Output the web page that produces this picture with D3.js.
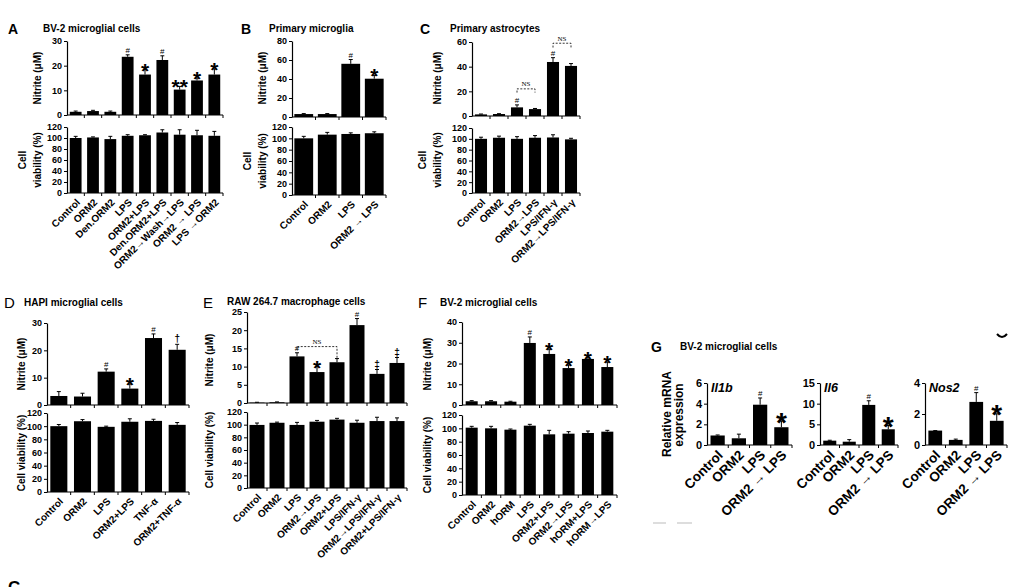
<!DOCTYPE html>
<html>
<head>
<meta charset="utf-8">
<script src="https://cdn.jsdelivr.net/npm/d3@7"></script>
<style>
  body { margin: 0; background: #fff; }
</style>
</head>
<body>
<svg id="fig" width="1030" height="587"></svg>
<script>
const FONT = '"Liberation Sans", Arial, sans-serif';

// A: BV-2 microglial cells
const aLabels = ["Control", "ORM2", "Den.ORM2", "LPS", "ORM2+LPS", "Den.ORM2+LPS", "ORM2→Wash→LPS", "ORM2 → LPS", "LPS →ORM2"];
const aNitrite = [1.3, 1.6, 1.3, 23.6, 16.4, 22.3, 10.3, 14.0, 16.4];
const aNitriteErr = [0.3, 0.3, 0.3, 0.8, 2.0, 1.7, 1.3, 1.0, 2.3];
const aMarks = ["", "", "", "#", "*", "#", "**", "*", "*"];
const aViab = [100, 101, 98, 104, 105, 110, 106, 105, 104];
const aViabErr = [3, 1, 5, 2, 1, 5, 9, 9, 8];

// B: Primary microglia
const bLabels = ["Control", "ORM2", "LPS", "ORM2 → LPS"];
const bNitrite = [3.1, 3.1, 56, 40.3];
const bNitriteErr = [0.5, 0.5, 4.5, 3.5];
const bMarks = ["", "", "#", "*"];
const bViab = [100, 106.5, 107.7, 109];
const bViabErr = [3.5, 4, 2, 2.5];

// C: Primary astrocytes
const cLabels = ["Control", "ORM2", "LPS", "ORM2→LPS", "LPS/IFN-γ", "ORM2→LPS/IFN-γ"];
const cNitrite = [1.3, 1.6, 7, 5.6, 43.8, 40.6];
const cNitriteErr = [0.3, 0.3, 2, 0.5, 3.5, 1.9];
const cMarks = ["", "", "#", "", "#", ""];
const cBrackets = [[2, 3, 22, 19, 19], [4, 5, 59, 55.5, 55.5]];
const cViab = [100, 102, 100, 102, 102.5, 99];
const cViabErr = [3, 3, 4, 4, 5, 2];

// D: HAPI microglial cells
const dLabels = ["Control", "ORM2", "LPS", "ORM2+LPS", "TNF-α", "ORM2+TNF-α"];
const dNitrite = [3.3, 3.1, 12.2, 6, 24.5, 20.2];
const dNitriteErr = [1.6, 1.2, 1, 1.7, 1.5, 2];
const dMarks = ["", "", "#", "*", "#", "†"];
const dViab = [100, 107.5, 99, 106.7, 108, 102];
const dViabErr = [2.5, 2.5, 1, 4.5, 2.5, 3.5];

// E: RAW 264.7 macrophage cells
const eLabels = ["Control", "ORM2", "LPS", "ORM2→LPS", "ORM2+LPS", "LPS/IFN-γ", "ORM2→LPS/IFN-γ", "ORM2+LPS/IFN-γ"];
const eNitrite = [0.1, 0.2, 12.8, 8.5, 11.2, 21.4, 8.0, 11.0];
const eNitriteErr = [0.1, 0.1, 1.0, 1.5, 1.0, 1.8, 1.2, 1.5];
const eMarks = ["", "", "#", "*", "", "#", "‡", "‡"];
const eBrackets = [[2, 4, 15.5, 14.6, 12.3]];
const eViab = [99.6, 103, 99.6, 104.7, 108, 103, 105.7, 105.7];
const eViabErr = [3, 1, 4, 2, 2, 4, 6, 5];

// F: BV-2 microglial cells
const fLabels = ["Control", "ORM2", "hORM", "LPS", "ORM2+LPS", "ORM2→LPS", "hORM+LPS", "hORM→LPS"];
const fNitrite = [1.8, 1.8, 1.6, 29.9, 24.6, 17.8, 22.2, 18.3];
const fNitriteErr = [0.3, 0.3, 0.2, 2.9, 2.3, 1.5, 0.6, 2.4];
const fMarks = ["", "", "", "#", "*", "*", "*", "*"];
const fViab = [101, 100, 98, 104, 91, 92, 93, 95];
const fViabErr = [2, 3, 1, 2, 6, 3, 3, 2];

// G: BV-2 microglial cells, relative mRNA
const gLabels = ["Control", "ORM2", "LPS", "ORM2 → LPS"];
const gIl1b = [0.92, 0.65, 3.9, 1.72];
const gIl1bErr = [0.05, 0.4, 0.65, 0.6];
const gIl6 = [1.05, 0.8, 9.7, 3.8];
const gIl6Err = [0.1, 0.5, 1.0, 0.9];
const gNos2 = [0.93, 0.33, 2.78, 1.56];
const gNos2Err = [0, 0.05, 0.6, 0.45];
const gMarks = ["", "", "#", "*"];

const viabTicks = [0, 20, 40, 60, 80, 100, 120];

const svg = d3.select("#fig").attr("font-family", FONT).attr("font-weight", "bold");

function chart(o) {
  const g = svg.append("g");
  const n = o.values.length;
  const x = d3.scaleBand().domain(d3.range(n)).range([o.x0, o.x1])
    .paddingInner(o.pad).paddingOuter(o.pad / 2);
  const y = d3.scaleLinear().domain([0, o.max]).range([o.yBot, o.yTop]);
  const cx = i => x(i) + x.bandwidth() / 2;
  const errs = o.errs;

  g.selectAll("rect").data(o.values).join("rect")
    .attr("x", (d, i) => x(i))
    .attr("width", x.bandwidth())
    .attr("y", d => y(d))
    .attr("height", d => y(0) - y(d))
    .attr("fill", "#000");

  // upper error bars only
  const cap = Math.min(4, x.bandwidth() / 3);
  g.selectAll("path.err").data(o.values).join("path")
    .attr("class", "err")
    .attr("d", (d, i) => {
      const t = y(d + errs[i]);
      return `M${cx(i)},${y(d)}V${t}M${cx(i) - cap / 2},${t}H${cx(i) + cap / 2}`;
    })
    .attr("stroke", "#000").attr("stroke-width", 1).attr("fill", "none");

  // y axis
  const ya = g.append("g").attr("transform", `translate(${o.x0},0)`)
    .call(d3.axisLeft(y).tickValues(o.ticks).tickFormat(d3.format("d"))
      .tickSize(3).tickSizeOuter(0).tickPadding(2));
  ya.attr("font-family", FONT).attr("font-size", o.tickFont || 9).attr("font-weight", "bold");
  ya.select(".domain").attr("stroke-width", 1.2);

  // x axis with ticks between categories
  g.append("line")
    .attr("x1", o.x0).attr("x2", o.x1).attr("y1", o.yBot).attr("y2", o.yBot)
    .attr("stroke", "#000").attr("stroke-width", 1.2);
  g.selectAll("line.xt").data(d3.range(1, n + 1)).join("line")
    .attr("class", "xt")
    .attr("x1", i => i < n ? x(i) - (x.step() - x.bandwidth()) / 2 : o.x1)
    .attr("x2", i => i < n ? x(i) - (x.step() - x.bandwidth()) / 2 : o.x1)
    .attr("y1", o.yBot).attr("y2", o.yBot + 3)
    .attr("stroke", "#000");

  if (o.labels) {
    g.selectAll("text.xl").data(o.labels).join("text")
      .attr("class", "xl")
      .attr("transform", (d, i) => `translate(${cx(i) + o.lx},${o.yBot + o.ly}) rotate(-45)`)
      .attr("text-anchor", "end")
      .attr("font-size", o.labelFont)
      .text(d => d);
  }

  if (o.marks) {
    g.selectAll("text.mk").data(o.marks).join("text")
      .attr("class", "mk")
      .attr("x", (d, i) => cx(i))
      .attr("y", (d, i) => {
        const t = y(o.values[i] + errs[i]);
        return d.startsWith("*") ? t + o.starFont * 0.38 : t - 2;
      })
      .attr("text-anchor", "middle")
      .attr("font-size", d => d.startsWith("*") ? o.starFont : (d === "#" ? 8 : 10))
      .attr("font-weight", d => d === "#" ? "normal" : "bold")
      .text(d => d);
  }

  (o.brackets || []).forEach(([a, b, v, la, rb]) => {
    g.append("path")
      .attr("d", `M${cx(a)},${y(la)}V${y(v)}H${cx(b)}V${y(rb)}`)
      .attr("stroke", "#000").attr("stroke-width", 0.8)
      .attr("stroke-dasharray", "2,1.5").attr("fill", "none");
    g.append("text")
      .attr("x", (cx(a) + cx(b)) / 2).attr("y", y(v) - 2.5)
      .attr("text-anchor", "middle")
      .attr("font-family", '"Liberation Serif", serif')
      .attr("font-weight", "normal").attr("font-size", 7)
      .text("NS");
  });

  if (o.gene) {
    g.append("text")
      .attr("x", o.x0 + 4).attr("y", o.yTop + 9)
      .attr("font-style", "italic").attr("font-size", 12.5)
      .text(o.gene);
  }
  return g;
}

function vtext(x, y, s, size) {
  svg.append("text")
    .attr("transform", `translate(${x},${y}) rotate(-90)`)
    .attr("text-anchor", "middle")
    .attr("font-size", size)
    .text(s);
}

function htext(x, y, s, size, weight) {
  svg.append("text")
    .attr("x", x).attr("y", y)
    .attr("font-size", size)
    .attr("font-weight", weight || "bold")
    .text(s);
}

// ---- top row
const row1 = { nTop: 41, nBot: 115, vTop: 127, vBot: 193 };

htext(8, 34, "A", 14);
htext(43, 32, "BV-2 microglial cells", 10);
chart({ values: aNitrite, errs: aNitriteErr, marks: aMarks, x0: 67, x1: 223, yTop: row1.nTop, yBot: row1.nBot,
  max: 30, ticks: [0, 10, 20, 30], pad: 0.32, starFont: 21 });
chart({ values: aViab, errs: aViabErr, labels: aLabels, x0: 67, x1: 223, yTop: row1.vTop, yBot: row1.vBot,
  max: 120, ticks: viabTicks, pad: 0.32, lx: 5, ly: 10, labelFont: 10 });
vtext(41, 78, "Nitrite (μM)", 10);
vtext(26, 160, "Cell", 10);
vtext(41, 160, "viability (%)", 10);

htext(241, 34, "B", 14);
htext(269, 32, "Primary microglia", 10);
chart({ values: bNitrite, errs: bNitriteErr, marks: bMarks, x0: 292, x1: 386, yTop: row1.nTop, yBot: row1.nBot + 2,
  max: 80, ticks: [0, 20, 40, 60, 80], pad: 0.2, starFont: 21 });
chart({ values: bViab, errs: bViabErr, labels: bLabels, x0: 292, x1: 386, yTop: row1.vTop, yBot: row1.vBot + 2,
  max: 120, ticks: viabTicks, pad: 0.2, lx: 5, ly: 10, labelFont: 10 });
vtext(266, 78, "Nitrite (μM)", 10);
vtext(251, 161, "Cell", 10);
vtext(266, 161, "viability (%)", 10);

htext(420, 34, "C", 14);
htext(450, 32, "Primary astrocytes", 10);
chart({ values: cNitrite, errs: cNitriteErr, marks: cMarks, brackets: cBrackets, x0: 472, x1: 580, yTop: 42, yBot: 116,
  max: 60, ticks: [0, 20, 40, 60], pad: 0.33, starFont: 21 });
chart({ values: cViab, errs: cViabErr, labels: cLabels, x0: 472, x1: 580, yTop: 128, yBot: 193,
  max: 120, ticks: viabTicks, pad: 0.33, lx: 5, ly: 10, labelFont: 10 });
vtext(441, 78, "Nitrite (μM)", 10);
vtext(426, 160, "Cell", 10);
vtext(441, 160, "viability (%)", 10);

// ---- bottom row
htext(4, 308, "D", 15, "normal");
htext(24, 306, "HAPI microglial cells", 10);
chart({ values: dNitrite, errs: dNitriteErr, marks: dMarks, x0: 47, x1: 189, yTop: 323, yBot: 405,
  max: 30, ticks: [0, 10, 20, 30], pad: 0.28, starFont: 21 });
chart({ values: dViab, errs: dViabErr, labels: dLabels, x0: 47, x1: 189, yTop: 413, yBot: 492,
  max: 120, ticks: viabTicks, pad: 0.28, lx: 5, ly: 10, labelFont: 10 });
vtext(25, 364, "Nitrite (μM)", 10);
vtext(25, 453, "Cell viability (%)", 10);

htext(203, 308, "E", 15, "normal");
htext(227, 305, "RAW 264.7 macrophage cells", 10);
chart({ values: eNitrite, errs: eNitriteErr, marks: eMarks, brackets: eBrackets, x0: 247, x1: 407, yTop: 312, yBot: 403,
  max: 25, ticks: [0, 5, 10, 15, 20, 25], pad: 0.25, starFont: 21 });
chart({ values: eViab, errs: eViabErr, labels: eLabels, x0: 247, x1: 407, yTop: 412, yBot: 488,
  max: 120, ticks: viabTicks, pad: 0.25, lx: 5, ly: 10, labelFont: 10 });
vtext(213, 360, "Nitrite (μM)", 10);
vtext(213, 450, "Cell viability (%)", 10);

htext(418, 308, "F", 15, "normal");
htext(440, 306, "BV-2 microglial cells", 10);
chart({ values: fNitrite, errs: fNitriteErr, marks: fMarks, x0: 462, x1: 617, yTop: 322, yBot: 405,
  max: 40, ticks: [0, 10, 20, 30, 40], pad: 0.38, starFont: 21 });
chart({ values: fViab, errs: fViabErr, labels: fLabels, x0: 462, x1: 617, yTop: 415, yBot: 495,
  max: 120, ticks: viabTicks, pad: 0.38, lx: 5, ly: 10, labelFont: 10 });
vtext(431, 364, "Nitrite (μM)", 10);
vtext(431, 455, "Cell viability (%)", 10);

htext(651, 352, "G", 14);
htext(680, 350, "BV-2 microglial cells", 10);
const gCharts = [
  { values: gIl1b, errs: gIl1bErr, gene: "Il1b", x0: 707, x1: 792, max: 6, ticks: [0, 2, 4, 6] },
  { values: gIl6, errs: gIl6Err, gene: "Il6", x0: 820, x1: 898, max: 15, ticks: [0, 5, 10, 15] },
  { values: gNos2, errs: gNos2Err, gene: "Nos2", x0: 925, x1: 1007, max: 4, ticks: [0, 2, 4] }
];
gCharts.forEach(c => chart(Object.assign({ marks: gMarks, labels: gLabels, yTop: 383, yBot: 445,
  pad: 0.33, starFont: 28, tickFont: 11, lx: 6, ly: 11, labelFont: 13.5 }, c)));
vtext(671, 414, "Relative mRNA", 12);
vtext(683, 415, "expression", 12);

// scan remnants
svg.append("path").attr("d", "M997,334 Q1002,340 1007,334").attr("stroke", "#000").attr("stroke-width", 2).attr("fill", "none");
svg.append("path").attr("d", "M653,523H666M677,523H692").attr("stroke", "#bbb").attr("stroke-width", 1.2);
htext(8, 593, "C", 17);
</script>
</body>
</html>
